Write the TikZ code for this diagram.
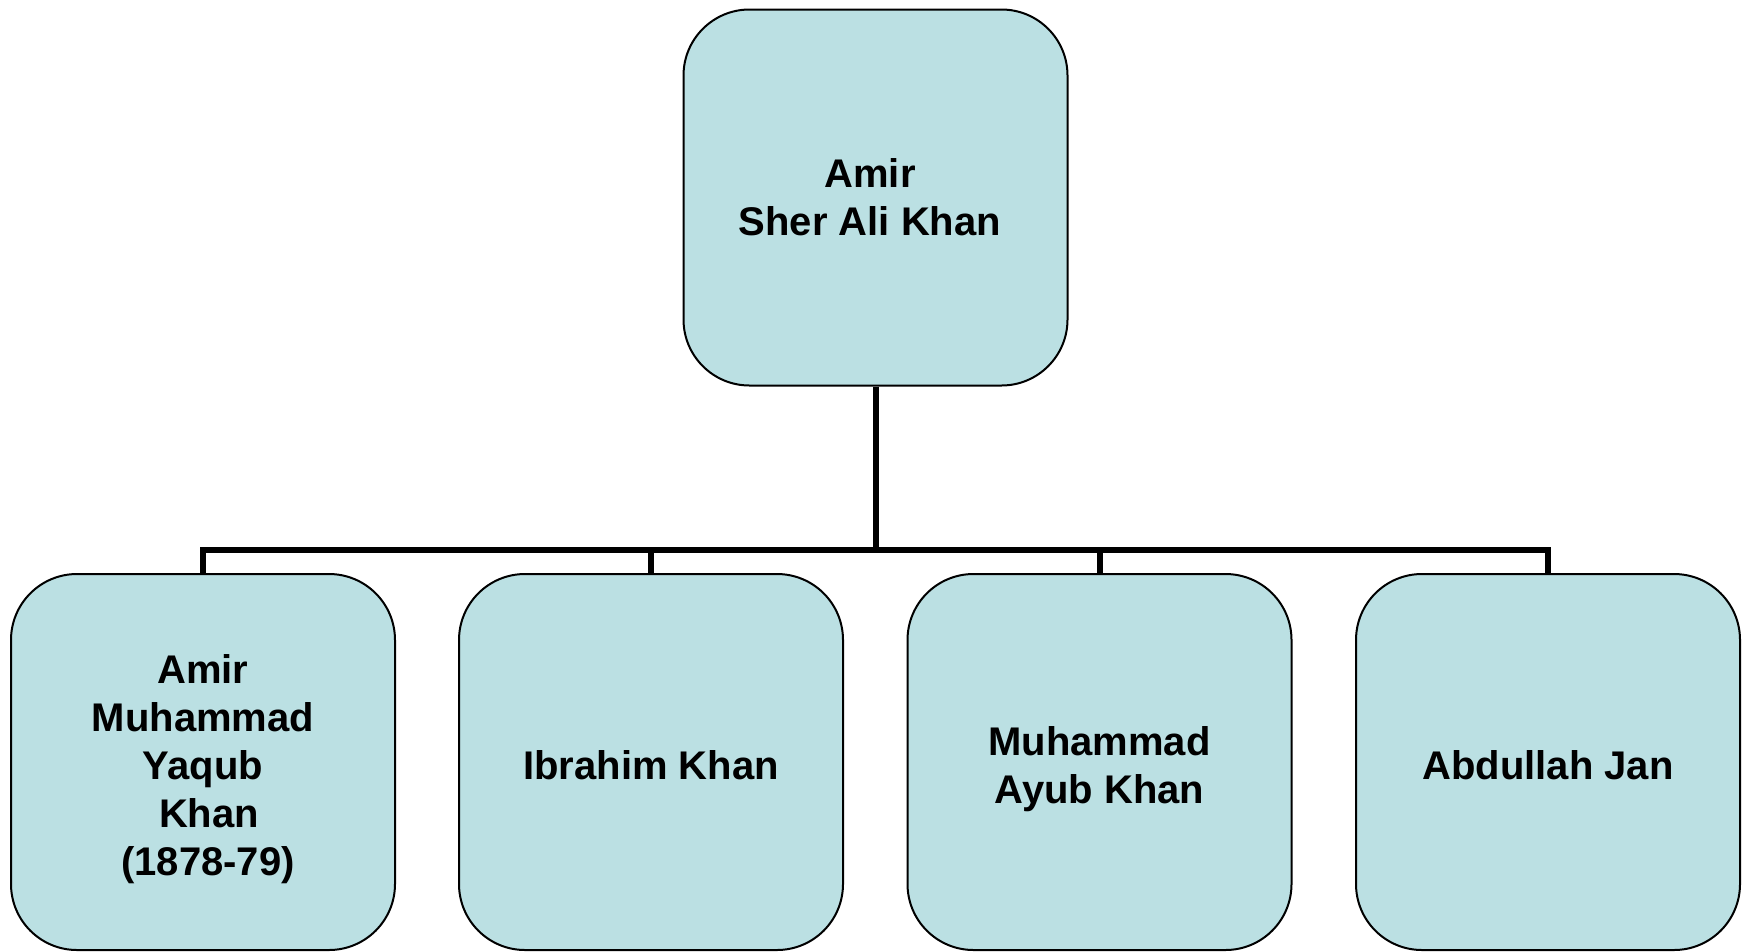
\documentclass[tikz,border=0pt]{standalone}
\usepackage{fontspec}
\setmainfont{Liberation Sans}
\definecolor{boxfill}{RGB}{187,224,227}
\newcommand{\lines}[2]{\raisebox{#1}[\height][\depth]{\begin{tabular}{@{}c@{}}#2\end{tabular}}}
\tikzset{
  person/.style={draw=black, line width=2pt, fill=boxfill, rounded corners=66pt,
    minimum width=384pt, minimum height=376pt, inner sep=0pt, align=center,
    font=\bfseries\fontsize{40}{48}\selectfont},
  conn/.style={draw=black, line width=6pt, line join=miter}
}
\begin{document}
\begin{tikzpicture}[x=1pt,y=-1pt]
\useasboundingbox (0,0) rectangle (1744,951);
\node[person] (top) at (875.5,197.5) {\lines{-4.5pt}{Amir\\Sher Ali Khan}\hspace*{11pt}};
\node[person] (c1) at (203,762) {\lines{-8pt}{Amir\\Muhammad\\Yaqub\\\hspace*{12pt}Khan\\\hspace*{10pt}(1878-79)}};
\node[person] (c2) at (651,762) {\lines{-8pt}{Ibrahim Khan}};
\node[person] (c3) at (1099.5,762) {\lines{-8pt}{Muhammad\\Ayub Khan}};
\node[person] (c4) at (1548,762) {\lines{-8pt}{Abdullah Jan}};
\coordinate (bus) at (875.5,550);
\draw[conn] (top.south) -- (top.south |- bus);
\draw[conn] (c1.north) -- (c1.north |- bus) -- (c4.north |- bus) -- (c4.north);
\draw[conn] (c2.north) -- (c2.north |- bus);
\draw[conn] (c3.north) -- (c3.north |- bus);
\end{tikzpicture}
\end{document}
